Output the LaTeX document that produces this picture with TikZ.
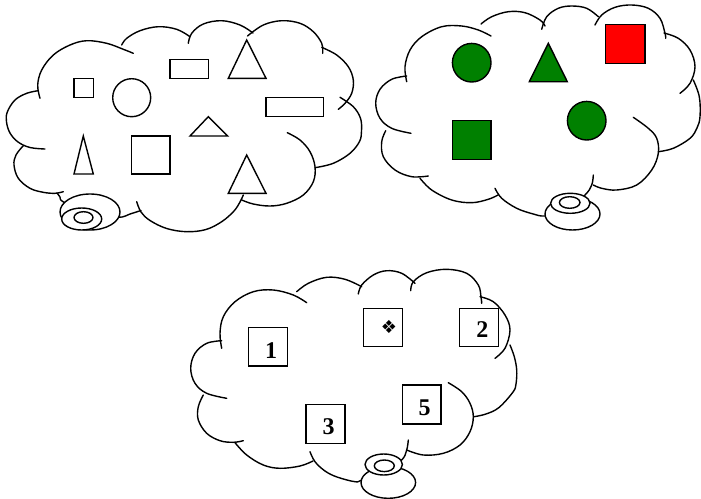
\documentclass[tikz,border=0pt]{standalone}
\usepackage{fontspec}
\setmainfont{Liberation Serif}
\newfontfamily\dejavu{DejaVu Sans}
\definecolor{shapegreen}{RGB}{0,128,0}
\definecolor{shapered}{RGB}{255,0,0}
\tikzset{
  cloudline/.style={line width=1.4pt, line cap=round, line join=round},
  shapeline/.style={line width=1.4pt, line join=miter},
  wheel/.style={line width=1.4pt, fill=white},
  numtext/.style={font=\bfseries\fontsize{24}{24}\selectfont, inner sep=0pt},
  symtext/.style={font=\dejavu\fontsize{18}{18}\selectfont, inner sep=0pt},
}
\newcommand\puffline[1]{\draw[cloudline] plot[smooth,tension=0.6] coordinates {#1};}
\begin{document}
\begin{tikzpicture}[x=1pt,y=-1pt]
\useasboundingbox (0,0) rectangle (701,498);

% ---------- cloud 1 ----------
\puffline{(38.3,90.7) (26.7,93.3) (15,100) (7.3,112) (6.5,122) (10,133) (18,142) (30,147.5) (45,149)}
\puffline{(40,98.3) (37.7,85) (41.7,70) (53.3,55) (70,45) (86.7,40.7) (106.7,43.3) (123.3,49.3) (133.3,53.3)}
\puffline{(121.7,45) (126.7,38.3) (140,30.7) (158.3,26.7) (176.7,29.3) (190,36.7)}
\puffline{(188.3,43.3) (191.7,33.3) (203.3,24) (221.7,20.7) (240,25) (253,33)}
\puffline{(247.5,36) (263.3,25) (281.7,20.7) (300,23.3) (313.3,31.7) (321.7,43.3) (322.7,53.3)}
\puffline{(321.7,47.3) (336.7,55) (348.3,66.7) (353.3,80) (351.7,93.3) (345,103.3) (338.3,109.3)}
\puffline{(340,97.3) (353.3,106.7) (360.5,118.3) (361.5,131) (359.5,141.5) (350,153.3) (333.3,163.3) (315,167.7)}
\puffline{(287.3,132.7) (300,140) (310,151.7) (315,166.7) (313.3,181.7) (303.3,195) (286.7,203.3) (270,206) (253.3,204) (241.7,200)}
\puffline{(136.7,201.7) (141,212) (150,220.5) (166.7,228.5) (186.7,231.7) (206,229.5) (222,221.5) (234,211) (240,202) (243.3,195)}
\puffline{(57,193) (60,197) (63.5,202) (90,214) (118.3,217.3) (130,214) (141,210.5)}
\puffline{(23.3,145.7) (16,155) (14,165) (18.3,178.3) (30,188.3) (43.3,192.3) (55,193.3) (63.3,191.7)}
\draw[wheel] (90,212) ellipse[x radius=30, y radius=18];
\draw[wheel] (81.7,219) ellipse[x radius=20, y radius=11];
\draw[wheel] (83.5,217.5) ellipse[x radius=9.5, y radius=5.8];

\draw[shapeline] (74,78.3) rectangle (93.3,97.7);
\draw[shapeline] (131.7,97.7) circle[radius=19];
\draw[shapeline] (170,59.3) rectangle (208.3,78.3);
\draw[shapeline] (246.7,40) -- (228.3,78.3) -- (266,78.3) -- cycle;
\draw[shapeline] (266,97.7) rectangle (323.3,116.7);
\draw[shapeline] (208.3,116.7) -- (190,136) -- (227.7,136) -- cycle;
\draw[shapeline] (83.3,136) -- (74,174) -- (93.3,174) -- cycle;
\draw[shapeline] (131.7,136) rectangle (170,174);
\draw[shapeline] (246.7,155) -- (228.3,193.3) -- (266,193.3) -- cycle;

% ---------- cloud 2 ----------
\puffline{(406.7,76) (391.7,79.3) (380,89.3) (375.7,103.3) (380,118.3) (391.7,128.3) (411,133.3)}
\puffline{(406.7,81.7) (405,66.7) (410,50) (421.7,36.7) (441.7,26.7) (461.7,26) (478.3,30) (491,36)}
\puffline{(481,24) (491.7,16.7) (508.3,11.7) (525,12.7) (540,20) (545,26)}
\puffline{(541.7,29.3) (546.7,16.7) (558.3,8.3) (571.7,6) (586.7,8.3) (598.3,16.7)}
\puffline{(595,25) (601.7,15) (615,7.3) (631.7,5) (648.3,8.3) (660,18.3) (665,33.3) (665.7,38.3)}
\puffline{(664,33) (678.3,38.3) (690,50) (695,66.7) (690,83.3) (680,93.3)}
\puffline{(693.3,80) (699.3,96.7) (700,116.7) (697,128) (690,138.3) (673.3,148.3) (658.3,151.7)}
\puffline{(633.3,117.3) (648.3,128.3) (656.7,138.3) (658.3,153.3) (651.7,170) (636.7,185) (616.7,190) (601.7,188.3) (593.3,185)}
\puffline{(495,188.3) (501.7,198.3) (516.7,208.3) (533.3,214) (545,216) (565,212) (585,195) (591.7,185) (593.3,175)}
\puffline{(420,178.3) (431.7,190) (451.7,200) (471.7,202.7) (488.3,199.3) (498,195)}
\puffline{(385.7,130.7) (381.7,141.7) (383.3,156.7) (395,170) (411.7,176.7) (428.3,176)}
\draw[wheel] (572.5,214) ellipse[x radius=27.5, y radius=16];
\draw[wheel] (570.3,203.3) ellipse[x radius=19.7, y radius=10];
\draw[wheel] (569.7,202.5) ellipse[x radius=10.3, y radius=5.8];

\draw[shapeline, fill=shapegreen] (471.7,62.7) circle[radius=19.3];
\draw[shapeline, fill=shapegreen] (548.3,43.3) -- (529.3,81.7) -- (567.3,81.7) -- cycle;
\draw[shapeline, fill=shapered] (605.7,24.3) rectangle (645,63.3);
\draw[shapeline, fill=shapegreen] (586.7,120.7) circle[radius=19.3];
\draw[shapeline, fill=shapegreen] (452.3,120.7) rectangle (491,159.3);

% ---------- cloud 3 ----------
\puffline{(221.7,340.7) (206.7,343.3) (195,353.3) (190.7,368.3) (195,383.3) (206.7,393.3) (226.7,398.3)}
\puffline{(221.7,348.3) (220,333.3) (223.3,316.7) (235,301.7) (253.3,291.7) (273.3,290) (293.3,295) (306.7,302.7)}
\puffline{(296.7,291.7) (308.3,283.3) (326.7,277.3) (345,279.3) (361.7,286.7)}
\puffline{(358.3,294) (361.7,285) (373.3,275) (386.7,270.7) (401.7,273.3) (415,283.3)}
\puffline{(410.7,290.7) (413.3,281.7) (426.7,272.7) (446.7,269.3) (466.7,273.3) (478.3,285) (481,296.7) (481.7,303.3)}
\puffline{(480,296.7) (493.3,301.7) (505,315) (510,330) (505,348.3) (495,358.3)}
\puffline{(510,345) (514.3,356.7) (516.7,370) (516,384) (513,392) (499,407.5) (486,414) (474,416.7)}
\puffline{(448.3,382.7) (461.7,391.7) (470,403.3) (473.3,416.7) (470,431.7) (460,445) (443.3,453.3) (423.3,455) (406.7,450)}
\puffline{(310,451.7) (315,461.7) (325,471) (337,477) (355,481.7) (362,480) (385,471) (401.7,460) (406.7,450) (408.3,440)}
\puffline{(235,442.7) (246.7,455) (263.3,465) (280,468.3) (300,466) (313,461)}
\puffline{(203.3,395) (198.3,406.7) (198.3,420) (206.7,433.3) (220,440.7) (233.3,442.3) (243.3,440.7)}
\draw[wheel] (388.3,482.5) ellipse[x radius=27.3, y radius=15.8];
\draw[wheel] (383.7,464.5) ellipse[x radius=18.7, y radius=10.5];
\draw[wheel] (384.3,465.8) ellipse[x radius=10, y radius=5.8];

\draw[shapeline] (248.3,327.7) rectangle (287.3,366);
\draw[shapeline] (363.3,308.3) rectangle (402.3,346.7);
\draw[shapeline] (459.3,308.3) rectangle (498.3,346.7);
\draw[shapeline] (306,404.3) rectangle (345,443.3);
\draw[shapeline] (402.3,385) rectangle (441,424);
\node[numtext] (n1) at (271,350.7) {1};
\node[symtext] (nsym) at (389,327) {❖};
\node[numtext] (n2) at (482.3,330) {2};
\node[numtext] (n3) at (328.7,426.7) {3};
\node[numtext] (n5) at (424.7,407.5) {5};
\end{tikzpicture}
\end{document}
